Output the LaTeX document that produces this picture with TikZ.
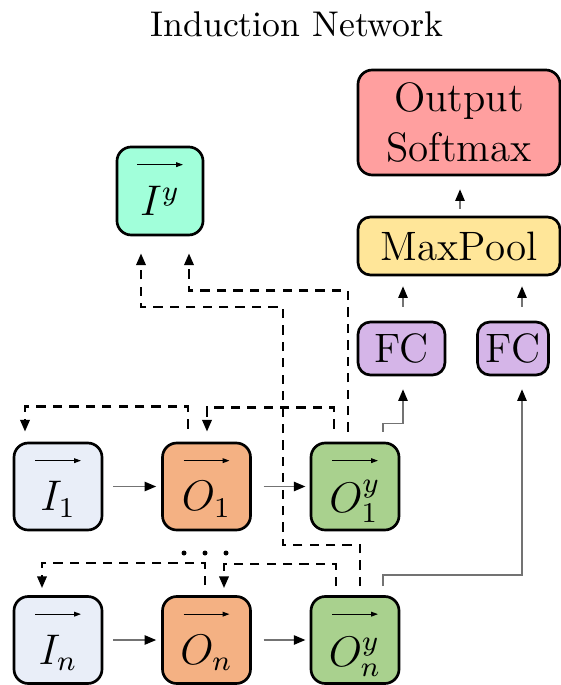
\documentclass[tikz,border=0pt]{standalone}
\usepackage{fontspec}
\usetikzlibrary{arrows.meta,calc}
\definecolor{cI}{HTML}{E9EEF8}
\definecolor{cO}{HTML}{F4B183}
\definecolor{cOy}{HTML}{A9D18E}
\definecolor{cIy}{HTML}{A1FFDA}
\definecolor{cOut}{HTML}{FF9F9F}
\definecolor{cMP}{HTML}{FFE699}
\definecolor{cFC}{HTML}{D5B5E8}
\begin{document}
\begin{tikzpicture}[x=0.28pt,y=-0.28pt,
  box/.style={draw=black, line width=0.75pt, rounded corners=3.5pt, inner sep=0pt},
  sq/.style={box, rounded corners=4pt, minimum width=24.64pt, minimum height=24.36pt},
  txt/.style={font=\fontsize{11.5}{14}\selectfont},
  lab/.style={font=\fontsize{12}{14}\selectfont, anchor=base, inner sep=0pt},
  vec/.style={line width=0.3pt, -{Triangle[length=1.9pt,width=1.3pt]}},
  darr/.style={line width=0.7pt, dash pattern=on 2.6pt off 2pt, -{Triangle[length=3.3pt,width=2.6pt]}},
  sarr/.style={line width=0.4pt, draw=black!55, -{Triangle[length=3.2pt,width=2.6pt,color=black]}},
]
\useasboundingbox (0,0) rectangle (561,685);

\node[font=\fontsize{10}{12}\selectfont, anchor=base, inner sep=0pt] (title) at (297,37) {Induction Network};

% right column
\node[box, fill=cOut, rounded corners=4pt, minimum width=56.56pt, minimum height=29.4pt, txt, align=center] (out) at (459,122.5) {Output\\Softmax};
\node[box, fill=cMP, minimum width=56.56pt, minimum height=16.24pt, txt] (mp) at (459,246) {MaxPool};
\node[box, fill=cFC, minimum width=24.36pt, minimum height=14.84pt, txt] (fc1) at (401.5,348.5) {FC};
\node[box, fill=cFC, minimum width=19.88pt, minimum height=14.84pt, txt] (fc2) at (513,348.5) {FC};

% I^y
\node[box, fill=cIy, rounded corners=4pt, minimum width=24.1pt, minimum height=24.64pt] (iy) at (160,191) {};

% rows
\node[sq, fill=cI]  (i1)  at (58,486.5) {};
\node[sq, fill=cO]  (o1)  at (206.5,486.5) {};
\node[sq, fill=cOy] (oy1) at (355,486.5) {};
\node[sq, fill=cI]  (in)  at (58,640) {};
\node[sq, fill=cO]  (on)  at (206.5,640) {};
\node[sq, fill=cOy] (oyn) at (355,640) {};

% labels
\node[lab] (liy)  at ($(iy.north)+(0,70)$)  {$I^y$};
\node[lab] (li1)  at ($(i1.north)+(0,69)$)  {$I_1$};
\node[lab] (lo1)  at ($(o1.north)+(0,69)$)  {$O_1$};
\node[lab] (loy1) at ($(oy1.north)+(0,71)$) {$O_1^y$};
\node[lab] (lin)  at ($(in.north)+(0,69)$)  {$I_n$};
\node[lab] (lon)  at ($(on.north)+(0,69)$)  {$O_n$};
\node[lab] (loyn) at ($(oyn.north)+(0,71)$) {$O_n^y$};

% vector arrows
\foreach \n in {iy,i1,o1,oy1,in,on,oyn}{
  \draw[vec] ($(\n.north)+(-23,19)$) -- ($(\n.north)+(23,19)$);
}

% horizontal arrows
\draw[sarr, shorten <=2.8pt, shorten >=1.4pt] (i1) -- (o1);
\draw[sarr, shorten <=3.3pt, shorten >=1.2pt] (o1) -- (oy1);
\draw[sarr, shorten <=2.8pt, shorten >=1.4pt] (in) -- (on);
\draw[sarr, shorten <=3.3pt, shorten >=1.2pt] (on) -- (oyn);

% dashed feedback arrows
\draw[darr] ($(o1.north)+(-18.5,-13)$) -- ++(0,-22) -| ($(i1.north)+(-33,-10)$);
\draw[darr] ($(oy1.north)+(-21,-13)$) -- ++(0,-21) -| ($(o1.north)+(0.5,-10)$);
\draw[darr] ($(oy1.north)+(-7,-10)$) -- ++(0,-141) -| ($(iy.south)+(29,17)$);
\draw[darr] ($(oyn.north)+(5,-9)$) -- ++(0,-41) -- ++(-77,0) -- ++(0,-238) -| ($(iy.south)+(-19,17)$);
\draw[darr] ($(on.north)+(-1.5,-10)$) -- ++(0,-22) -| ($(in.north)+(-16,-7)$);
\draw[darr] ($(oyn.north)+(-19,-9)$) -- ++(0,-22) -| ($(on.north)+(17.5,-7)$);

% solid connectors to FC
\draw[sarr] ($(oy1.north)+(28,-10)$) -- ++(0,-8) -| ($(fc1.south)+(1.5,13)$);
\draw[sarr] ($(oyn.north)+(28,-9)$) -- ++(0,-11) -| ($(fc2.south)+(9,13)$);

% up arrows
\draw[sarr] ($(fc1.north)+(1.5,-14)$) -- ($(mp.south -| fc1.north)+(1.5,10)$);
\draw[sarr] ($(fc2.north)+(9,-14)$) -- ($(mp.south -| fc2.north)+(9,10)$);
\draw[sarr] ($(mp.north)+(1,-7)$) -- ($(out.south)+(1,13)$);

% dots
\fill (184,553) circle (0.7pt);
\fill (205,553) circle (0.7pt);
\fill (226,553) circle (0.7pt);
\end{tikzpicture}
\end{document}
